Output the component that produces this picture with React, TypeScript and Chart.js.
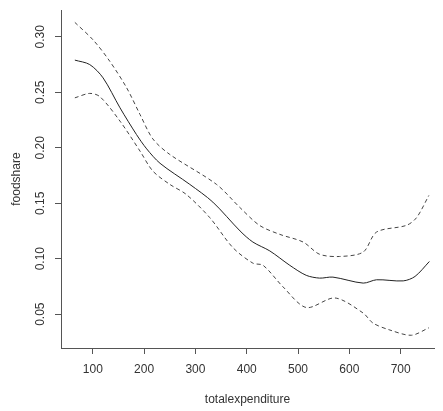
import { Chart, registerables } from "chart.js"
import React, { useEffect, useRef } from "react"

Chart.register(...registerables)

const fitX = [65, 94, 120, 153, 185, 205, 231, 289, 334, 387, 412, 445, 484, 516, 542, 568, 627, 653, 705, 728, 756]
const fitY = [0.279, 0.275, 0.263, 0.236, 0.212, 0.199, 0.186, 0.167, 0.151, 0.125, 0.115, 0.107, 0.094, 0.085, 0.0825, 0.0834, 0.078, 0.081, 0.08, 0.084, 0.0975]

const upperX = [65, 101, 133, 166, 192, 217, 250, 341, 387, 425, 464, 510, 542, 581, 627, 653, 711, 731, 755]
const upperY = [0.313, 0.297, 0.278, 0.254, 0.23, 0.208, 0.194, 0.167, 0.146, 0.13, 0.122, 0.115, 0.104, 0.102, 0.106, 0.124, 0.13, 0.137, 0.157]

const lowerX = [65, 94, 114, 153, 192, 217, 250, 282, 328, 373, 412, 432, 471, 516, 572, 627, 646, 679, 721, 755]
const lowerY = [0.245, 0.249, 0.246, 0.224, 0.197, 0.179, 0.167, 0.158, 0.137, 0.11, 0.096, 0.094, 0.0745, 0.056, 0.0646, 0.051, 0.042, 0.0357, 0.031, 0.0377]

const xTicks = [100, 200, 300, 400, 500, 600, 700]
const yTicks = [0.05, 0.1, 0.15, 0.2, 0.25, 0.3]

const pts = (xs: number[], ys: number[]) => xs.map((x, i) => ({ x, y: ys[i] }))

const font = { family: "Liberation Sans, Arial", size: 12 }

const App: React.FC = () => {
  const chartRef = useRef<HTMLCanvasElement>(null)
  const chartInstanceRef = useRef<Chart | null>(null)

  useEffect(() => {
    document.body.style.margin = "0"
    const ctx = chartRef.current?.getContext("2d")
    if (!ctx) return

    const rotatedYLabels = {
      id: "rotatedYLabels",
      afterDraw(chart: any) {
        const c = chart.ctx
        const y = chart.scales.y
        c.save()
        c.fillStyle = "#333"
        c.font = "12px Liberation Sans, Arial"
        c.textAlign = "center"
        c.textBaseline = "middle"
        yTicks.forEach((v) => {
          c.save()
          c.translate(41, y.getPixelForValue(v))
          c.rotate(-Math.PI / 2)
          c.fillText(v.toFixed(2), 0, 0)
          c.restore()
        })
        c.restore()
      },
    }

    const line = (data: any, dashed: boolean) => ({
      data,
      borderColor: dashed ? "#444" : "#222",
      borderWidth: 1,
      borderDash: dashed ? [4, 3] : [],
      pointRadius: 0,
      showLine: true,
      tension: 0.3,
    })

    chartInstanceRef.current = new Chart(ctx, {
      type: "scatter",
      data: {
        datasets: [line(pts(fitX, fitY), false), line(pts(upperX, upperY), true), line(pts(lowerX, lowerY), true)],
      },
      options: {
        animation: false,
        responsive: false,
        layout: { padding: { top: 8, right: 9, left: 5, bottom: 0 } },
        plugins: { legend: { display: false }, tooltip: { enabled: false } },
        scales: {
          x: {
            min: 38,
            max: 765,
            afterBuildTicks: (s: any) => {
              s.ticks = xTicks.map((value) => ({ value }))
            },
            afterFit: (s: any) => {
              s.height = 63
            },
            grid: { display: true, drawOnChartArea: false, tickLength: 6, color: "#555" },
            border: { display: true, color: "#555" },
            ticks: { color: "#333", font, padding: 8, maxRotation: 0 },
            title: { display: true, text: "totalexpenditure", color: "#333", font, padding: { top: 4 } },
          },
          y: {
            min: 0.0195,
            max: 0.324,
            afterBuildTicks: (s: any) => {
              s.ticks = yTicks.map((value) => ({ value }))
            },
            afterFit: (s: any) => {
              s.width = 56
            },
            grid: { display: true, drawOnChartArea: false, tickLength: 6, color: "#555" },
            border: { display: true, color: "#555" },
            ticks: { color: "rgba(0,0,0,0)", font, callback: () => "" },
            title: { display: true, text: "foodshare", color: "#333", font, padding: { bottom: 0 } },
          },
        },
      },
      plugins: [rotatedYLabels],
    })

    return () => {
      chartInstanceRef.current?.destroy()
    }
  }, [])

  return <canvas ref={chartRef} width={443} height={411} style={{ display: "block" }} />
}

export default App
